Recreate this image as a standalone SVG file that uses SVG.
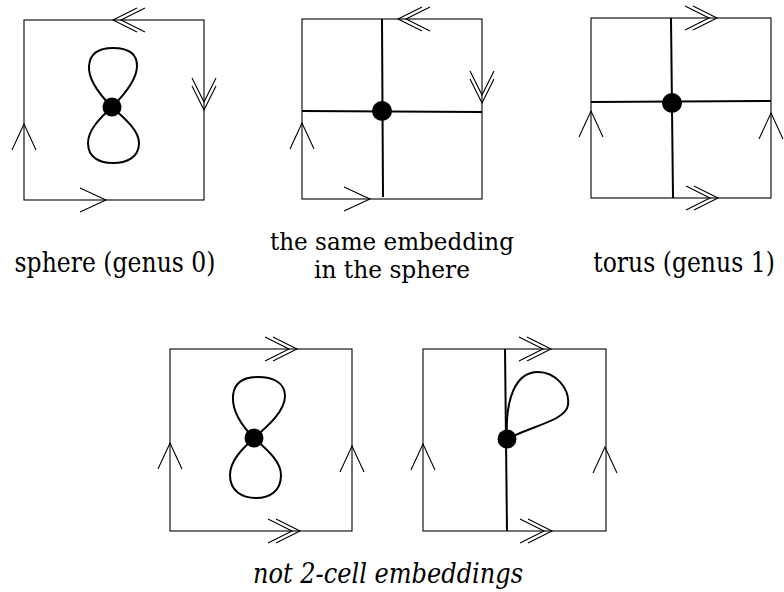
<svg xmlns="http://www.w3.org/2000/svg" xmlns:xlink="http://www.w3.org/1999/xlink" width="784" height="592" viewBox="0 0 784 592">
<style>
.sq{fill:none;stroke:#000;stroke-width:1.1}
.ch{fill:none;stroke:#000;stroke-width:1.1;stroke-linejoin:miter}
.ed{fill:none;stroke:#000;stroke-width:2}
.vx{fill:#000}
.lb{font-size:28px;fill:#000;text-anchor:middle}
.sm{font-size:24px}
.it{font-style:italic}
</style>
<defs>
<path id="a1" class="ch" d="M-26,-12 L0,0 L-26,12"/>
<path id="a2" class="ch" d="M-24,-12 L0,0 L-24,12 M-32,-12 L-8,0 L-32,12"/>
</defs>
<rect width="784" height="592" fill="#fff"/>

<g id="panel1">
<rect class="sq" x="24" y="20" width="180" height="180"/>
<use xlink:href="#a2" transform="translate(113,20) rotate(180)"/>
<use xlink:href="#a2" transform="translate(204,110) rotate(90)"/>
<use xlink:href="#a1" transform="translate(24,124) rotate(-90)"/>
<use xlink:href="#a1" transform="translate(106,200)"/>
<path class="ed" d="M112,107 C100,95 88,80 89,66 C90,52 100,48 113,48 C126,48 137,52 137,66 C137,80 124,95 112,107 Z"/>
<path class="ed" d="M112,107 C100,118 88,130 88,143 C88,158 100,163 113,163 C126,163 139,158 139,143 C139,130 124,118 112,107 Z"/>
<circle class="vx" cx="112" cy="107" r="9.5"/>
</g>

<g id="panel2">
<rect class="sq" x="302" y="19" width="180" height="180"/>
<use xlink:href="#a2" transform="translate(398,19) rotate(180)"/>
<use xlink:href="#a2" transform="translate(482,103) rotate(90)"/>
<use xlink:href="#a1" transform="translate(302,123) rotate(-90)"/>
<use xlink:href="#a1" transform="translate(370,199)"/>
<path class="ed" d="M382,19 L383,197 M302,111 L482,112"/>
<circle class="vx" cx="382" cy="111" r="10"/>
</g>

<g id="panel3">
<rect class="sq" x="591" y="18" width="180" height="180"/>
<use xlink:href="#a2" transform="translate(717,18)"/>
<use xlink:href="#a2" transform="translate(718,198)"/>
<use xlink:href="#a1" transform="translate(591,111) rotate(-90)"/>
<use xlink:href="#a1" transform="translate(771,113) rotate(-90)"/>
<path class="ed" d="M671,18 L673,198 M591,102 L771,101"/>
<circle class="vx" cx="672" cy="103" r="10"/>
</g>

<g id="panel4">
<rect class="sq" x="170" y="349" width="182" height="182"/>
<use xlink:href="#a2" transform="translate(297,349)"/>
<use xlink:href="#a2" transform="translate(300,531)"/>
<use xlink:href="#a1" transform="translate(170,443) rotate(-90)"/>
<use xlink:href="#a1" transform="translate(352,446) rotate(-90)"/>
<path class="ed" d="M254,438 C242,426 232,411 233,396 C234,382 244,377 258,377 C272,377 285,382 285,396 C285,411 268,426 254,438 Z"/>
<path class="ed" d="M254,438 C242,449 230,461 230,475 C230,491 242,498 256,498 C270,498 281,491 281,475 C281,461 266,449 254,438 Z"/>
<circle class="vx" cx="254" cy="438" r="9.5"/>
</g>

<g id="panel5">
<rect class="sq" x="423" y="349" width="183" height="182"/>
<use xlink:href="#a2" transform="translate(551,349)"/>
<use xlink:href="#a2" transform="translate(552,531)"/>
<use xlink:href="#a1" transform="translate(423,444) rotate(-90)"/>
<use xlink:href="#a1" transform="translate(605,447) rotate(-90)"/>
<path class="ed" d="M505,349 L507,531"/>
<path class="ed" d="M507,439 C505,400 515,372 538,372 C555,372 570,388 568,405 C566,420 535,425 507,439"/>
<circle class="vx" cx="507" cy="439" r="9.5"/>
</g>

<g id="labels">
<text class="lb" font-family="DejaVu Serif" x="115" y="272" textLength="201" lengthAdjust="spacingAndGlyphs">sphere (genus 0)</text>
<text class="lb sm" font-family="DejaVu Serif" x="392" y="250" textLength="244" lengthAdjust="spacingAndGlyphs">the same embedding</text>
<text class="lb sm" font-family="DejaVu Serif" x="392" y="278" textLength="156" lengthAdjust="spacingAndGlyphs">in the sphere</text>
<text class="lb" font-family="DejaVu Serif" x="0" y="0" transform="translate(684,272) scale(0.84,1)">torus (genus 1)</text>
<text class="lb it" font-family="DejaVu Serif" x="388" y="583" textLength="270" lengthAdjust="spacingAndGlyphs">not 2-cell embeddings</text>
</g>
</svg>
